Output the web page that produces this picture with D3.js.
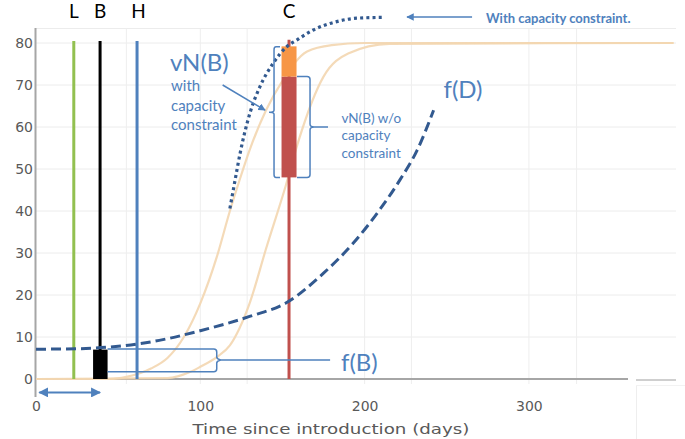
<!DOCTYPE html>
<html><head><meta charset="utf-8">
<script src="https://cdn.jsdelivr.net/npm/d3@7"></script>
<style>body{margin:0;background:#fff}svg{display:block}
.ax text, text.ax{font-family:"DejaVu Sans",Verdana,"Noto Sans",sans-serif}
</style>
</head><body><svg id="c" width="685" height="439"></svg>
<script>
// ---------- data ----------
const xTicks = [0, 100, 200, 300];
const yTicks = [0, 10, 20, 30, 40, 50, 60, 70, 80];
const xGridExtra = [55, 128.5, 228.5, 329];
const markerLabels = ["L", "B", "H", "C"];
const markerDays = [23, 39, 61.5, 154];
const markerTops = [80.5, 80.5, 80.5, 80.8];
const fastDays = [0, 45, 55, 70, 80, 90, 100, 110, 118, 124, 130, 140, 150, 165, 180, 200, 388];
const fastVals = [0, 0, 0.5, 2.5, 5, 10, 18, 29, 40, 47.5, 54.5, 64, 71, 78, 79.5, 80, 80];
const slowDays = [0, 80, 94, 100, 110, 118, 130, 140, 152, 160, 175, 190, 215, 388];
const slowVals = [0, 0.2, 1.7, 2.9, 5.2, 8, 18, 31, 46, 57, 72, 77.5, 79.8, 80];
const capDays = [118, 121, 124.2, 130.2, 136.3, 144.4, 152.6, 158.7, 168.8, 183, 195.2, 211.4];
const capVals = [40.6, 47, 53.7, 63.3, 69.6, 75.2, 79.1, 80.7, 83.1, 85.1, 85.9, 86.1];
const demandDays = [0, 25, 50, 75, 100, 130, 152.6, 175, 193, 209, 221.5, 232, 242];
const demandVals = [7.1, 7.2, 7.8, 9.2, 11.5, 14.9, 18.2, 25.2, 32.3, 40.2, 47.4, 54.5, 64];
const fB = 7;                  // black bar height at B
const vnbWithout = [48, 72];   // red segment at C
const vnbWith = [72, 79.2];    // orange segment at C

// ---------- setup ----------
const svg = d3.select("#c");
const x = d3.scaleLinear().domain([0, 360]).range([36, 627.5]);
const y = d3.scaleLinear().domain([0, 80]).range([379, 43]);
const BLUE = "#4f81bd", DARK = "#32598f", BEIGE = "#f3d6b0";
const annFont = "Lato, 'Open Sans', sans-serif";

// grid
const grid = svg.append("g");
grid.selectAll("line.h").data(yTicks.slice(1)).join("line")
  .attr("x1", x(0)).attr("x2", 676).attr("y1", d => y(d)).attr("y2", d => y(d))
  .attr("stroke", "#ececec").attr("stroke-width", 1);
grid.append("line").attr("x1", x(0)).attr("x2", 676).attr("y1", 28.5).attr("y2", 28.5)
  .attr("stroke", "#ececec");
grid.selectAll("line.v").data(xTicks.slice(1).concat(xGridExtra)).join("line")
  .attr("x1", d => x(d)).attr("x2", d => x(d)).attr("y1", 28.5).attr("y2", 384)
  .attr("stroke", "#eeeeee").attr("stroke-width", 1);
grid.append("line").attr("x1", 636.5).attr("x2", 636.5).attr("y1", 386).attr("y2", 439).attr("stroke", "#eeeeee");
grid.append("line").attr("x1", 636).attr("x2", 685).attr("y1", 385.5).attr("y2", 385.5).attr("stroke", "#f2f2f2");

// axes lines
svg.append("line").attr("x1", 35.5).attr("x2", 35.5).attr("y1", 28).attr("y2", 397)
  .attr("stroke", "#a6a6a6").attr("stroke-width", 2);
svg.append("line").attr("x1", x(0)).attr("x2", 628).attr("y1", y(0)).attr("y2", y(0))
  .attr("stroke", "#a6a6a6").attr("stroke-width", 2);
svg.append("line").attr("x1", 636).attr("x2", 676).attr("y1", y(0) + 1).attr("y2", y(0) + 1)
  .attr("stroke", "#cfcfcf").attr("stroke-width", 2);

// tick labels via axes
const xa = svg.append("g").attr("class", "ax").attr("transform", `translate(0,${y(0)})`)
  .call(d3.axisBottom(x).tickValues(xTicks).tickSize(0).tickPadding(22).tickFormat(d3.format("d")));
const ya = svg.append("g").attr("class", "ax").attr("transform", `translate(36,0)`)
  .call(d3.axisLeft(y).tickValues(yTicks).tickSize(0).tickPadding(3).tickFormat(d3.format("d")));
[xa, ya].forEach(a => {
  a.attr("font-family", null);
  a.select(".domain").remove();
  a.selectAll("text").attr("font-size", 13.5).attr("fill", "#595959")
    .attr("textLength", d => String(d).length * 8.9).attr("lengthAdjust", "spacingAndGlyphs");
});
svg.append("text").attr("class", "ax").attr("x", 331).attr("y", 434).attr("text-anchor", "middle")
  .attr("font-size", 14).attr("fill", "#595959")
  .attr("textLength", 277).attr("lengthAdjust", "spacingAndGlyphs")
  .text("Time since introduction (days)");

// beige adoption curves
const line = d3.line().x(d => x(d[0])).y(d => y(d[1])).curve(d3.curveMonotoneX);
[[fastDays, fastVals], [slowDays, slowVals]].forEach(([ds, vs]) => {
  svg.append("path").datum(ds.map((d, i) => [d, vs[i]])).attr("d", line)
    .attr("fill", "none").attr("stroke", BEIGE).attr("stroke-width", 2.2).attr("opacity", 0.9);
});

// marker vertical lines
const markerColors = ["#92c050", "#000000", "#4f81bd", "#c0504d"];
markerDays.forEach((d, i) => {
  svg.append("line").attr("x1", x(d)).attr("x2", x(d)).attr("y1", y(0)).attr("y2", y(markerTops[i]))
    .attr("stroke", markerColors[i]).attr("stroke-width", 3);
  svg.append("text").attr("x", x(d) + (i === 2 ? 1.5 : 0)).attr("y", 17.5).attr("text-anchor", "middle")
    .attr("font-family", annFont).attr("font-size", 19).attr("fill", "#000").text(markerLabels[i]);
});

// black f(B) bar
const xB = x(markerDays[1]), xC = x(markerDays[3]);
svg.append("rect").attr("x", xB - 7).attr("width", 14.5).attr("y", y(fB)).attr("height", y(0) - y(fB)).attr("fill", "#000");
// C bars
svg.append("rect").attr("x", xC - 7.5).attr("width", 15).attr("y", y(vnbWithout[1])).attr("height", y(vnbWithout[0]) - y(vnbWithout[1])).attr("fill", "#c0504d");
svg.append("rect").attr("x", xC - 7.5).attr("width", 15).attr("y", y(vnbWith[1])).attr("height", y(vnbWith[0]) - y(vnbWith[1])).attr("fill", "#f79646");

// dashed demand curve & dotted capacity curve
svg.append("path").datum(demandDays.map((d, i) => [d, demandVals[i]])).attr("d", line)
  .attr("fill", "none").attr("stroke", DARK).attr("stroke-width", 3).attr("stroke-dasharray", "10,5");
svg.append("path").datum(capDays.map((d, i) => [d, capVals[i]])).attr("d", line)
  .attr("fill", "none").attr("stroke", DARK).attr("stroke-width", 3.2).attr("stroke-dasharray", "3,3.2");

// arrow markers
const defs = svg.append("defs");
defs.append("marker").attr("id", "ah").attr("viewBox", "0 0 10 10").attr("refX", 9).attr("refY", 5)
  .attr("markerWidth", 5).attr("markerHeight", 5).attr("orient", "auto-start-reverse")
  .append("path").attr("d", "M0,0L10,5L0,10z").attr("fill", BLUE);

// braces
const ann = svg.append("g").attr("fill", "none").attr("stroke", BLUE).attr("stroke-width", 1.5);
{
  const t = y(vnbWith[1]) + 0.5, b = y(vnbWithout[0]), m = (t + b) / 2, vx = xC - 15, ax = xC - 9;
  ann.append("path").attr("d",
    `M${ax},${t} L${vx + 2},${t} Q${vx},${t} ${vx},${t + 3} L${vx},${m - 2} Q${vx},${m} ${vx - 5},${m} Q${vx},${m} ${vx},${m + 2} L${vx},${b - 3} Q${vx},${b} ${vx + 2},${b} L${ax},${b}`);
}
{
  const t = y(vnbWithout[1]), b = y(vnbWithout[0]), m = (t + b) / 2, vx = xC + 21, ax = xC + 8;
  ann.append("path").attr("d",
    `M${ax},${t} L${vx - 3},${t} Q${vx},${t} ${vx},${t + 3} L${vx},${m - 3} Q${vx},${m} ${vx + 4},${m} L${vx + 18},${m} M${vx + 4},${m} Q${vx},${m} ${vx},${m + 3} L${vx},${b - 3} Q${vx},${b} ${vx - 3},${b} L${ax},${b}`);
}
{
  const t = y(fB) - 0.5, b = y(1.75), m = y(4.5), l = xB + 7.5, vx = x(110), tip = x(179);
  ann.append("path").attr("d",
    `M${l},${t} L${vx - 3},${t} Q${vx},${t} ${vx},${t + 3} L${vx},${m - 3} Q${vx},${m - 1} ${vx + 4},${m} L${tip},${m} M${vx + 4},${m} Q${vx},${m + 1} ${vx},${m + 3} L${vx},${b - 3} Q${vx},${b} ${vx - 3},${b} L${l},${b}`);
}
ann.append("line").attr("x1", x(113.6)).attr("y1", y(70)).attr("x2", x(139.4)).attr("y2", y(64))
  .attr("marker-end", "url(#ah)");
ann.append("line").attr("x1", x(265.4)).attr("y1", y(86.2)).attr("x2", x(225.8)).attr("y2", y(86.2))
  .attr("marker-end", "url(#ah)");
ann.append("line").attr("x1", x(2)).attr("y1", y(-3.2)).attr("x2", x(39)).attr("y2", y(-3.2))
  .attr("stroke-width", 2).attr("marker-start", "url(#ah)").attr("marker-end", "url(#ah)");

// annotation texts
function txt(tx, ty, s, size, weight) {
  svg.append("text").attr("x", tx).attr("y", ty).attr("font-family", annFont).attr("font-size", size)
    .attr("font-weight", weight || "normal").attr("fill", BLUE).text(s);
}
txt(170, 71, "vN(B)", 24);
txt(171, 91, "with", 15);
txt(171, 110.5, "capacity", 15);
txt(171, 130, "constraint", 15);
txt(341.5, 122.5, "vN(B) w/o", 13.5);
txt(341.5, 140, "capacity", 13.5);
txt(341.5, 157.5, "constraint", 13.5);
txt(443.5, 98, "f(D)", 24);
txt(341, 370.5, "f(B)", 24);
txt(486, 22.5, "With capacity constraint.", 13, "bold");
</script></body></html>
